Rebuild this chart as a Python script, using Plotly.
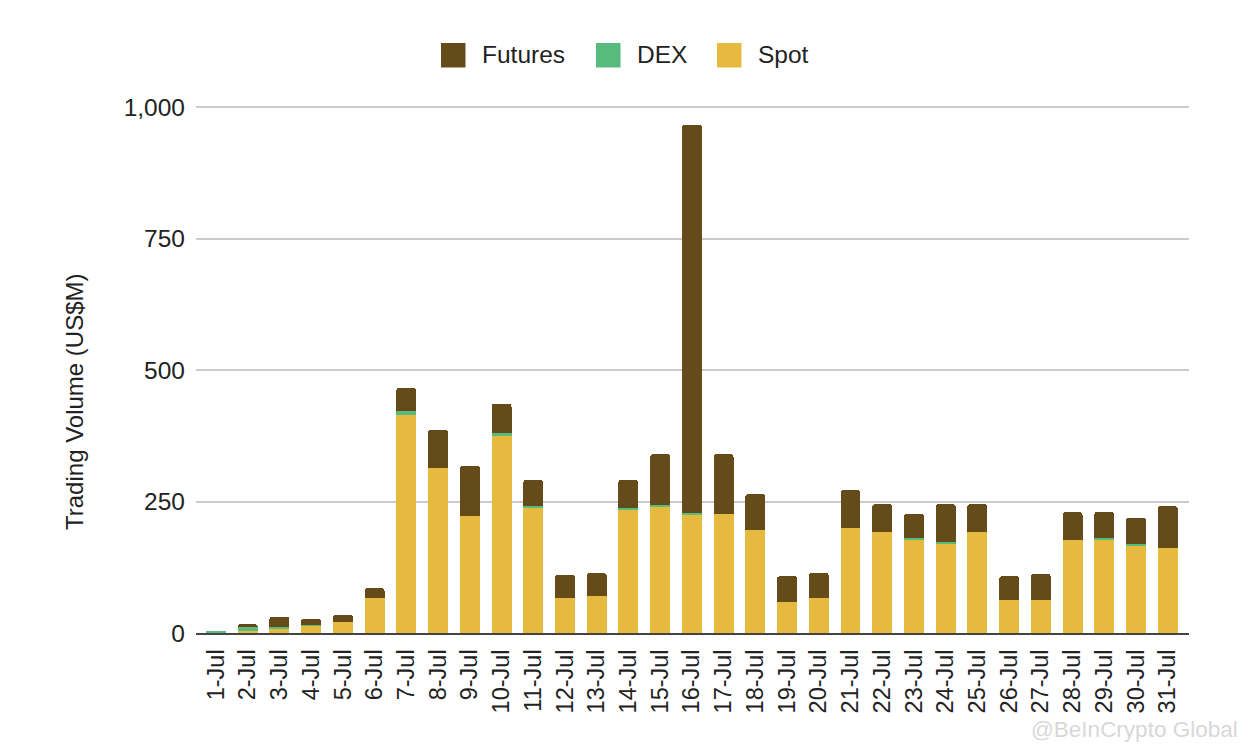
import plotly.graph_objects as go

days = [f"{d}-Jul" for d in range(1, 32)]
spot = [1, 3, 8, 14, 21, 66, 415, 314, 222, 375, 238, 66, 70, 234, 240, 224, 226, 196, 59, 66, 200, 192, 177, 169, 192, 63, 63, 177, 177, 165, 162]
dex = [3, 8, 4, 1, 0, 0, 7, 0, 0, 5, 4, 0, 0, 4, 3, 4, 0, 0, 0, 0, 0, 0, 4, 4, 0, 0, 0, 0, 4, 4, 0]
futures = [0, 6, 19, 12, 14, 19, 44, 72, 96, 56, 49, 44, 44, 53, 97, 738, 114, 68, 49, 48, 72, 53, 45, 72, 53, 45, 49, 53, 49, 50, 79]
tick_values = [0, 250, 500, 750, 1000]
tick_labels = ["0", "250", "500", "750", "1,000"]
series = [("Spot", spot, "#e6b93f"), ("DEX", dex, "#57bb7d"), ("Futures", futures, "#654a1a")]
legend_items = [("Futures", "#654a1a", 441), ("DEX", "#57bb7d", 596), ("Spot", "#e6b93f", 717)]

FONT = "Liberation Sans, Arial, sans-serif"
PW, PH = 1189 - 196, 633 - 106


def px(x):
    return (x - 196) / PW


def py(y):
    return (633 - y) / PH


fig = go.Figure()
for name, vals, color in series:
    fig.add_bar(x=days, y=vals, name=name, marker=dict(color=color, line=dict(width=0)))

shapes, annotations = [], []
for name, color, left in legend_items:
    shapes.append(dict(type="rect", xref="paper", yref="paper",
                       x0=px(left), x1=px(left + 24.5), y0=py(67.5), y1=py(43),
                       fillcolor=color, line=dict(width=0), layer="above"))
    annotations.append(dict(xref="paper", yref="paper", x=px(left + 39), y=py(54),
                            xanchor="left", yanchor="middle", showarrow=False,
                            text=name, font=dict(size=24.5, color="#222222", family=FONT)))
annotations.append(dict(xref="paper", yref="paper", x=px(1240), y=py(729),
                        xanchor="right", yanchor="middle", showarrow=False, text="@BeInCrypto Global",
                        font=dict(size=22.5, color="#d8d8d8", family=FONT)))
annotations.append(dict(xref="paper", yref="paper", x=px(74), y=py(402),
                        xanchor="center", yanchor="middle", showarrow=False, textangle=-90,
                        text="Trading Volume (US$M)", font=dict(size=24, color="#222222", family=FONT)))

fig.update_layout(
    barmode="stack", bargap=0.37, barcornerradius=3, showlegend=False,
    paper_bgcolor="white", plot_bgcolor="white",
    margin=dict(l=196, r=59, t=106, b=123),
    font=dict(family=FONT, size=23, color="#222222"),
    shapes=shapes, annotations=annotations,
    xaxis=dict(type="category", range=[-0.63, 30.67], tickangle=-90, showgrid=False,
               showline=True, linecolor="#444444", linewidth=2, ticks="", ticklabelstandoff=5,
               tickfont=dict(size=23.5, color="#222222")),
    yaxis=dict(range=[0, 1002], tickvals=tick_values, ticktext=tick_labels, showgrid=True,
               gridcolor="#cccccc", gridwidth=2, zeroline=False, showline=False, ticks="",
               ticklabelstandoff=10, tickfont=dict(size=24.5, color="#222222")),
)
fig.write_html("out.html", config=dict(displayModeBar=False),
               post_script="document.body.style.margin='0';window.dispatchEvent(new Event('resize'));")
